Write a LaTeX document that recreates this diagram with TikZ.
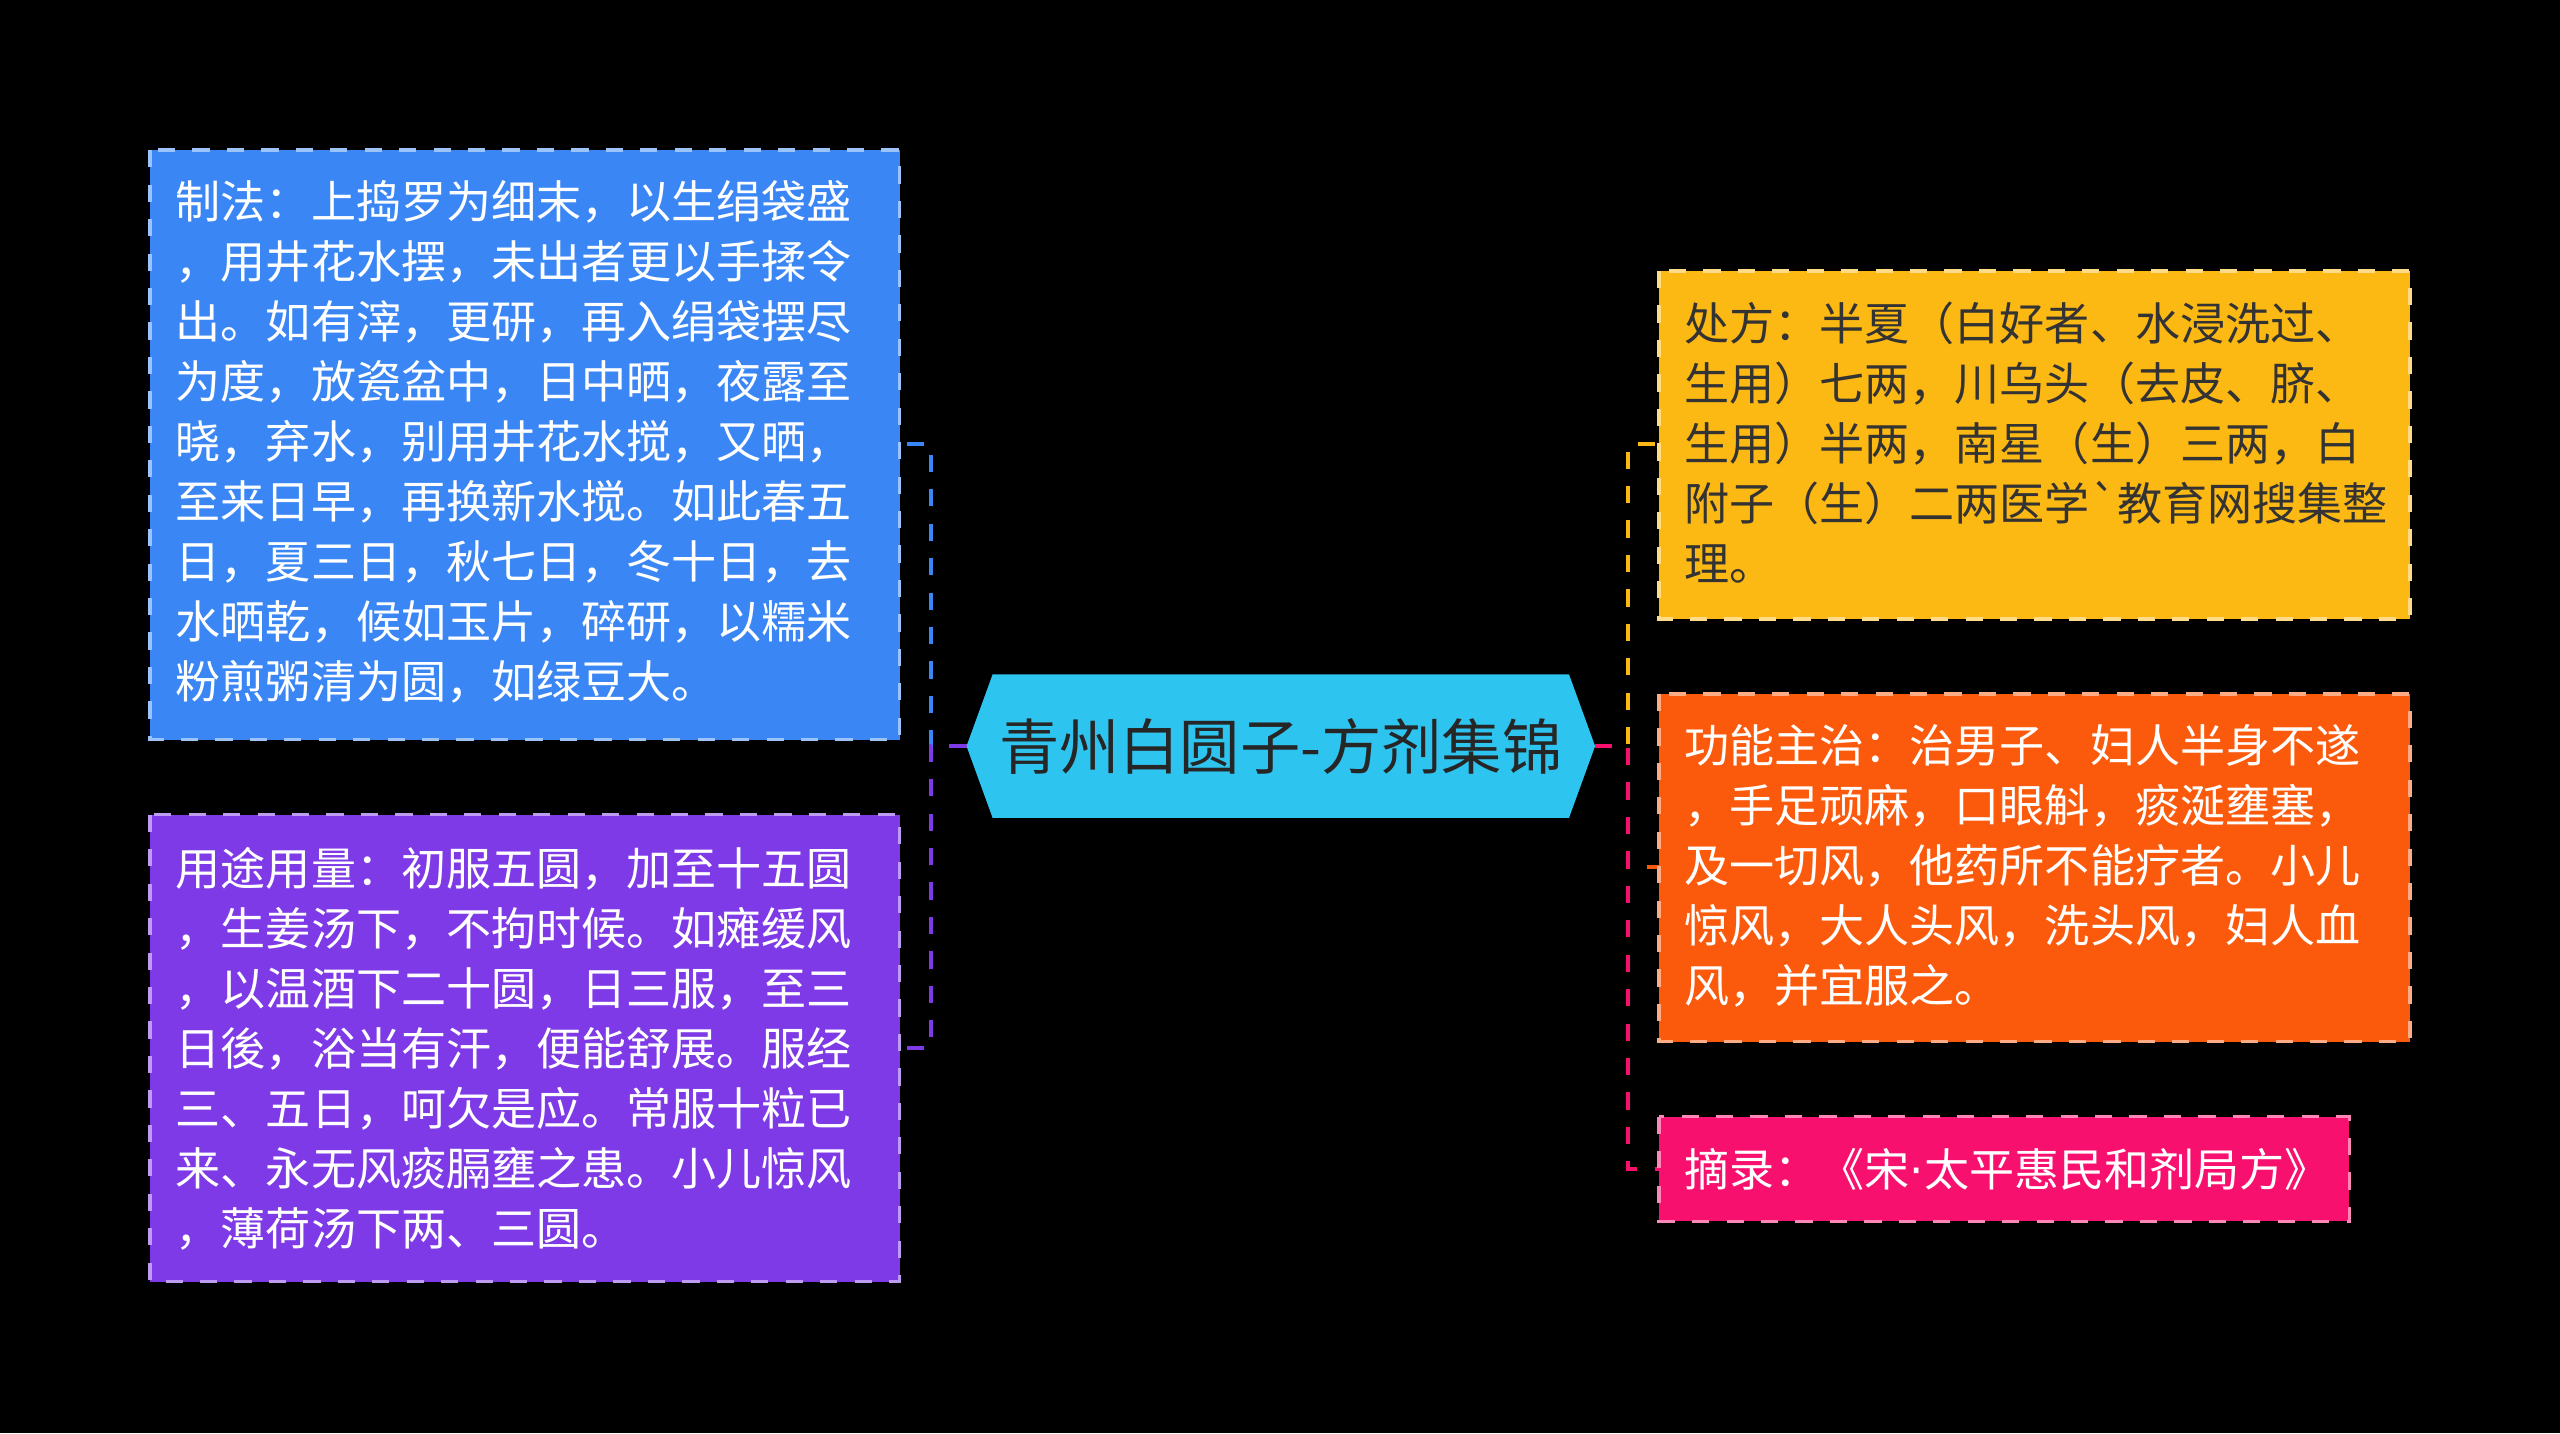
\documentclass[tikz,border=0pt]{standalone}
\usepackage{fontspec}
\setmainfont{Noto Sans CJK SC}
\begin{document}
\begin{tikzpicture}[x=0.01cm,y=-0.01cm,
  box/.style={draw=#1!60!white,dashed,line width=0.6pt,inner sep=0pt},
  txt/.style={anchor=north west,align=left,inner sep=0pt,font=\fontsize{7.85}{10.45}\selectfont},
  conn/.style={dashed,line width=0.7pt}]
\fill[black] (0,0) rectangle (1568,878);
\useasboundingbox (0,0) rectangle (1568,878);
\definecolor{cb}{HTML}{3A86F5}\definecolor{cp}{HTML}{7E3AE6}
\definecolor{cc}{HTML}{2EC4F0}\definecolor{cy}{HTML}{FDB913}
\definecolor{co}{HTML}{FB5A0C}\definecolor{ck}{HTML}{F7106E}
% connectors
\coordinate (cl) at (592,457); \coordinate (cr) at (977,457);
\draw[conn,cb] (cl) -- (570,457) -- (570,272) -- (551,272);
\draw[conn,cp] (cl) -- (570,457) -- (570,642) -- (551,642);
\draw[conn,cy] (cr) -- (997,457) -- (997,272) -- (1016,272);
\draw[conn,co] (cr) -- (997,457) -- (997,531) -- (1016,531);
\draw[conn,ck] (cr) -- (997,457) -- (997,716) -- (1016,716);
% boxes
\fill[cb] (92,92) rectangle (551,453); \draw[box=cb,draw=cb!50!white] (92,92) rectangle (551,453);
\node[txt,text=white] (b1) at (107,110) {制法：上捣罗为细末，以生绢袋盛\\，用井花水摆，未出者更以手揉令\\出。如有滓，更研，再入绢袋摆尽\\为度，放瓷盆中，日中晒，夜露至\\晓，弃水，别用井花水搅，又晒，\\至来日早，再换新水搅。如此春五\\日，夏三日，秋七日，冬十日，去\\水晒乾，候如玉片，碎研，以糯米\\粉煎粥清为圆，如绿豆大。};
\fill[cp] (92,499) rectangle (551,785); \draw[box=cp,draw=cp!50!white] (92,499) rectangle (551,785);
\node[txt,text=white] (b2) at (107,518) {用途用量：初服五圆，加至十五圆\\，生姜汤下，不拘时候。如瘫缓风\\，以温酒下二十圆，日三服，至三\\日後，浴当有汗，便能舒展。服经\\三、五日，呵欠是应。常服十粒已\\来、永无风痰膈壅之患。小儿惊风\\，薄荷汤下两、三圆。};
\fill[cy] (1016,166) rectangle (1476,379); \draw[box=cy,draw=cy!50!white] (1016,166) rectangle (1476,379);
\node[txt,text=black!80] (b3) at (1031,184) {处方：半夏（白好者、水浸洗过、\\生用）七两，川乌头（去皮、脐、\\生用）半两，南星（生）三两，白\\附子（生）二两医学\textasciigrave 教育网搜集整\\理。};
\fill[co] (1016,425) rectangle (1476,638); \draw[box=co,draw=co!50!white] (1016,425) rectangle (1476,638);
\node[txt,text=white] (b4) at (1031,443) {功能主治：治男子、妇人半身不遂\\，手足顽麻，口眼斛，痰涎壅塞，\\及一切风，他药所不能疗者。小儿\\惊风，大人头风，洗头风，妇人血\\风，并宜服之。};
\fill[ck] (1016,684) rectangle (1439,748); \draw[box=ck,draw=ck!50!white] (1016,684) rectangle (1439,748);
\node[txt,text=white,anchor=west] (b5) at (1031,716) {摘录：《宋{\fontspec{DejaVu Sans}·}太平惠民和剂局方》};
% center
\fill[cc] (608,413) -- (961,413) -- (977,457) -- (961,501) -- (608,501) -- (592,457) -- cycle;
\node[font=\fontsize{10.5}{12}\selectfont,text=black!85] (c) at (784.5,457) {青州白圆子-方剂集锦};
\end{tikzpicture}
\end{document}
